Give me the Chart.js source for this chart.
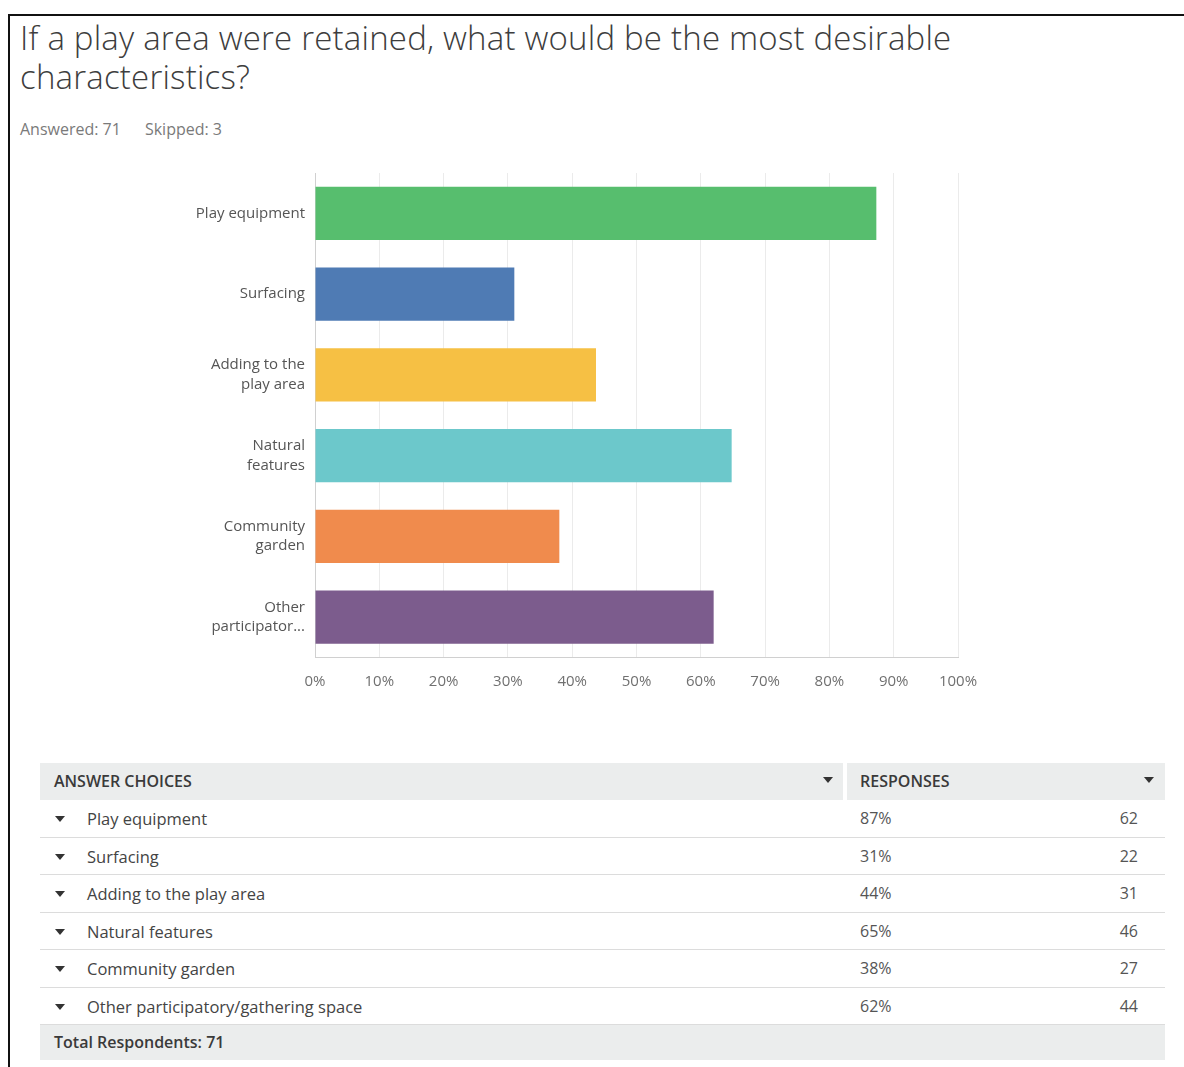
<!DOCTYPE html>
<html>
<head>
<meta charset="utf-8">
<script src="https://cdn.jsdelivr.net/npm/chart.js@4"></script>
<style>
  html, body { margin: 0; padding: 0; background: #fff; }
  body { width: 1184px; height: 1067px; position: relative; overflow: hidden; font-family: "Open Sans", sans-serif; }
  .frame { position: absolute; left: 8px; top: 14px; width: 1200px; height: 1100px; border-left: 2px solid #111; border-top: 2px solid #111; }
  .title { position: absolute; left: 20px; top: 18px; font-size: 33px; line-height: 39px; color: #3d3d3d; font-weight: 300; letter-spacing: 0.2px; }
  .meta { position: absolute; left: 20px; top: 118px; font-size: 16px; color: #7a7a7a; }
  .meta span { margin-right: 24px; }
  #chartWrap { position: absolute; left: 150px; top: 160px; width: 830px; height: 545px; }
  .cell { position: absolute; box-sizing: border-box; }
  .hdr { background: #ebeded; top: 763px; height: 37px; font-weight: 600; font-size: 16px; color: #3a3a3a; line-height: 37px; }
  .row { left: 40px; width: 1125px; height: 37.5px; border-bottom: 1.5px solid #dcdcdc; font-size: 16.5px; color: #444; }
  .row div { position: absolute; top: 0; line-height: 37px; }
  .tri { position: absolute; width: 0; height: 0; border-left: 5px solid transparent; border-right: 5px solid transparent; border-top: 6px solid #333; }
  .total { left: 40px; width: 1125px; top: 1025px; height: 35px; background: #ebeded; font-weight: 600; font-size: 16px; color: #3a3a3a; line-height: 35px; padding-left: 14px; }
</style>
</head>
<body>
<div class="frame"></div>
<div class="title">If a play area were retained, what would be the most desirable<br>characteristics?</div>
<div class="meta"><span>Answered: 71</span><span>Skipped: 3</span></div>
<div id="chartWrap"><canvas id="chart"></canvas></div>
<div id="table"></div>

<script>
// chart data
const categories = [
  "Play equipment",
  "Surfacing",
  ["Adding to the", "play area"],
  ["Natural", "features"],
  ["Community", "garden"],
  ["Other", "participator..."]
];
const percentValues = [87.3, 31.0, 43.7, 64.8, 38.0, 62.0];
const barColors = ["#57be6e", "#4f7bb4", "#f6c044", "#6cc8cb", "#f08b4d", "#7c5c8d"];
const xTicks = [0, 10, 20, 30, 40, 50, 60, 70, 80, 90, 100];

// table data
const answerChoices = ["Play equipment", "Surfacing", "Adding to the play area", "Natural features", "Community garden", "Other participatory/gathering space"];
const responsePercents = ["87%", "31%", "44%", "65%", "38%", "62%"];
const responseCounts = [62, 22, 31, 46, 27, 44];
const totalRespondents = 71;

// build table
const table = document.getElementById("table");
function el(cls, style, html) {
  const d = document.createElement("div");
  d.className = cls;
  if (style) d.setAttribute("style", style);
  if (html !== undefined) d.innerHTML = html;
  table.appendChild(d);
  return d;
}
el("cell hdr", "left:40px;width:803px;padding-left:14px;", "ANSWER CHOICES");
el("tri", "left:823px;top:777px;");
el("cell hdr", "left:847px;width:318px;padding-left:13px;", "RESPONSES");
el("tri", "left:1144px;top:777px;");

answerChoices.forEach((name, i) => {
  const r = el("cell row", "top:" + (800 + i * 37.5) + "px;");
  r.innerHTML =
    '<div class="tri" style="left:15px;top:16px;"></div>' +
    '<div style="left:47px;">' + name + '</div>' +
    '<div style="left:820px;font-size:16px;color:#555;">' + responsePercents[i] + '</div>' +
    '<div style="right:27px;font-size:16px;color:#555;">' + responseCounts[i] + '</div>';
});
el("cell total", "", "Total Respondents: " + totalRespondents);

// no extra label padding, so the plot area lands where it should
function noPad(scale) {
  scale.paddingTop = 0;
  scale.paddingBottom = 0;
  scale.paddingLeft = 0;
  scale.paddingRight = 0;
}

// chart
const ctx = document.getElementById("chart");
new Chart(ctx, {
  type: "bar",
  data: {
    labels: categories,
    datasets: [{
      data: percentValues,
      backgroundColor: barColors,
      borderWidth: 0,
      barPercentage: 0.66,
      categoryPercentage: 1.0,
    }]
  },
  options: {
    indexAxis: "y",
    responsive: true,
    maintainAspectRatio: false,
    animation: false,
    layout: { padding: { top: 13, right: 22, left: 0, bottom: 0 } },
    plugins: {
      legend: { display: false },
      tooltip: { enabled: false },
    },
    scales: {
      x: {
        min: 0,
        max: 100,
        afterBuildTicks: (scale) => { scale.ticks = xTicks.map(v => ({ value: v })); },
        afterFit: (scale) => { scale.height = 47.5; noPad(scale); },
        grid: { color: "#ebebeb", drawTicks: false, lineWidth: 1 },
        border: { color: "#d0d0d0", width: 1 },
        ticks: {
          padding: 15,
          color: "#707070",
          font: { family: "Open Sans", size: 15 },
          callback: (v) => v + "%",
          maxRotation: 0,
          autoSkip: false,
        }
      },
      y: {
        afterFit: (scale) => { scale.width = 165; noPad(scale); },
        grid: { display: false, drawTicks: false },
        border: { color: "#d0d0d0", width: 1 },
        ticks: {
          padding: 10,
          color: "#555",
          font: { family: "Open Sans", size: 15, lineHeight: 1.3 },
        }
      }
    }
  }
});
</script>
</body>
</html>
